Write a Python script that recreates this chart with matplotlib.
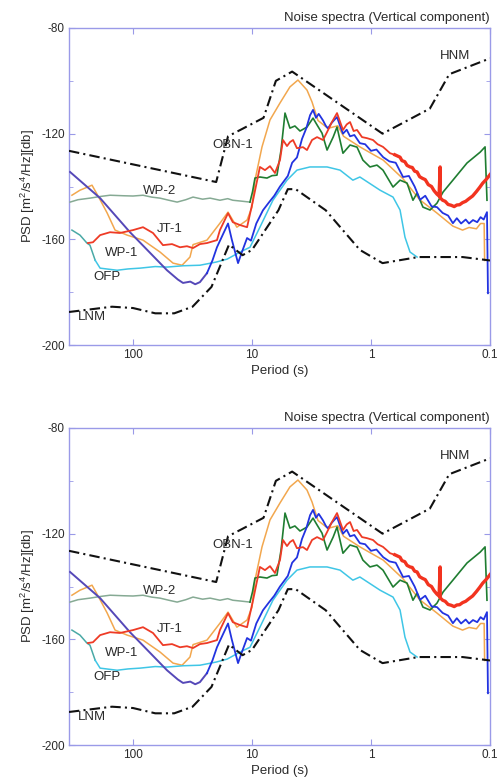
import numpy as np
import matplotlib
matplotlib.use("Agg")
import matplotlib.pyplot as plt
from matplotlib.ticker import FixedLocator, NullLocator, FixedFormatter

plt.rcParams["font.family"] = ["Liberation Sans", "DejaVu Sans"]
plt.rcParams["mathtext.fontset"] = "custom"
plt.rcParams["mathtext.rm"] = "Liberation Sans"
plt.rcParams["mathtext.it"] = "Liberation Sans:italic"
plt.rcParams["axes.unicode_minus"] = False

# --- Peterson noise models: (period [s], PSD [dB]) ---
hnm = [(345, -126.5), (20, -138.3), (15.9, -121.0), (8.0, -114.0), (6.3, -100.0),
       (4.6, -96.5), (0.8, -120.0), (0.32, -110.5), (0.22, -97.5), (0.1, -91.5)]
lnm = [(345, -187.5), (150, -185.5), (100, -186.0), (65, -188.0), (45, -188.0),
       (31.6, -185.5), (21.9, -178.0), (15.6, -162.0), (12, -166.0), (10, -164.0),
       (6, -149.0), (5, -141.0), (4.3, -141.0), (2.4, -149.0), (1.24, -164.0),
       (0.8, -169.0), (0.4, -166.7), (0.17, -166.7), (0.1, -168.0)]

# --- station spectra: (period [s], PSD [dB]) ---
obn1 = [(326, -143.3), (279, -141.4), (221, -139.5), (189, -145.0), (165, -150.0),
        (141.5, -156.5), (112, -158.4), (82.4, -160.3), (59.3, -164.8), (46.1, -169.0),
        (38.7, -169.8), (33.2, -166.7), (31.3, -162.0), (23.9, -160.3), (18.6, -153.9),
        (15.9, -149.7), (13.4, -155.4), (11.0, -152.7), (10.0, -147.8), (9.44, -137.6),
        (8.24, -125.0), (7.06, -114.8), (5.82, -108.4), (4.8, -102.3), (4.11, -99.7),
        (3.45, -103.5), (3.13, -108.0), (2.79, -115.0), (2.3, -118.0), (1.9, -117.0),
        (1.7, -121.0), (1.24, -125.0), (0.79, -130.0), (0.54, -137.0), (0.39, -145.0),
        (0.28, -150.0), (0.205, -155.0), (0.17, -156.5), (0.15, -155.5), (0.13, -156.0),
        (0.12, -154.0), (0.112, -154.0), (0.111, -168.0)]

wp2 = [(338, -145.9), (290, -145.0), (230, -144.4), (190, -143.8), (156, -143.3),
       (120, -143.5), (100, -143.6), (82.4, -143.3), (70, -144.0), (59.3, -144.4),
       (50, -145.2), (42.6, -145.9), (36, -145.0), (31.3, -144.0), (26, -144.8),
       (22.5, -144.4), (18.6, -145.2), (16, -144.6), (14.5, -145.2), (12.5, -145.5),
       (10.4, -145.9), (9.9, -142.0), (9.44, -136.8), (8.58, -136.4), (7.48, -136.8),
       (6.8, -135.9), (6.17, -135.7), (5.7, -126.2), (5.28, -112.2), (4.8, -117.9),
       (4.36, -117.1), (3.95, -119.0), (3.45, -117.5), (3.07, -114.1), (2.84, -116.7),
       (2.58, -119.8), (2.34, -126.2), (2.08, -121.3), (1.93, -117.5), (1.72, -127.4),
       (1.5, -124.3), (1.31, -125.1), (1.17, -130.0), (1.02, -132.6), (0.891, -131.9),
       (0.793, -133.8), (0.653, -140.2), (0.57, -137.6), (0.498, -138.7), (0.444, -145.2),
       (0.41, -142.5), (0.366, -147.8), (0.319, -148.9), (0.279, -146.3), (0.248, -142.1),
       (0.205, -137.6), (0.156, -131.1), (0.121, -127.0), (0.11, -125.0), (0.106, -145.2)]

jt1 = [(239, -161.4), (217, -161.1), (189, -158.4), (156, -157.3), (129, -157.6),
       (100, -156.5), (82.4, -155.4), (67.9, -157.6), (56, -162.2), (47, -161.8),
       (40.3, -163.0), (35.2, -162.6), (31.3, -163.3), (27.4, -161.8), (23.9, -161.4),
       (19.7, -160.3), (18.6, -156.5), (15.9, -150.1), (14.5, -153.5), (12.6, -154.6),
       (11.0, -155.4), (9.8, -145.2), (8.58, -132.6), (7.78, -133.8), (7.06, -132.3),
       (6.41, -134.9), (5.82, -130.0), (5.49, -122.4), (5.08, -124.7), (4.8, -123.2),
       (4.52, -122.4), (4.19, -125.5), (3.73, -125.1), (3.45, -126.2), (3.13, -122.4),
       (2.84, -121.3), (2.53, -122.4), (2.34, -119.4), (2.13, -115.6), (1.93, -112.2),
       (1.72, -118.6), (1.6, -116.5), (1.5, -115.6), (1.4, -119.0), (1.31, -118.6),
       (1.19, -121.3), (1.08, -121.7), (0.962, -122.4), (0.88, -124.0), (0.793, -125.0),
       (0.74, -126.2), (0.692, -127.4), (0.63, -128.0), (0.57, -128.9), (0.55, -130.2),
       (0.52, -130.6), (0.498, -132.0), (0.47, -132.6), (0.45, -132.8), (0.43, -134.2),
       (0.41, -134.5), (0.39, -136.3), (0.37, -136.9), (0.35, -137.4), (0.33, -139.3),
       (0.31, -140.0), (0.295, -141.6), (0.279, -142.9), (0.268, -143.6), (0.2625, -132.6),
       (0.262, -144.3), (0.25, -145.2), (0.238, -145.6), (0.225, -146.8), (0.212, -147.1),
       (0.2, -147.6), (0.19, -147.0), (0.18, -146.9), (0.17, -146.1), (0.16, -145.6),
       (0.15, -144.6), (0.14, -143.6), (0.13, -141.9), (0.122, -140.3), (0.115, -138.7),
       (0.108, -137.4), (0.104, -136.5), (0.1, -135.5)]

wp1 = [(338, -134.5), (189, -144.4), (106, -157.3), (51.8, -171.7), (42, -175.2),
       (38, -176.5), (33, -176.0), (30, -177.0), (27.4, -176.2), (23.9, -172.8),
       (21.5, -168.0), (19.7, -163.0), (17.5, -158.0), (15.9, -154.0), (14.8, -160.0),
       (13.1, -169.0), (12.2, -165.0), (11.0, -159.5), (10.2, -160.5), (9.2, -154.0),
       (8.09, -149.0), (7.2, -146.0), (6.5, -143.5), (5.82, -140.0), (5.0, -136.0),
       (4.6, -131.0), (4.19, -129.0), (3.8, -122.0), (3.5, -118.0), (3.25, -113.0),
       (3.07, -111.0), (2.9, -114.0), (2.75, -112.5), (2.53, -115.0), (2.4, -117.0),
       (2.3, -118.0), (2.15, -116.0), (1.93, -113.7), (1.82, -117.0), (1.72, -120.0),
       (1.6, -118.5), (1.5, -121.0), (1.38, -120.5), (1.24, -123.6), (1.12, -124.0),
       (1.0, -126.5), (0.9, -126.0), (0.79, -128.9), (0.7, -130.5), (0.62, -131.0),
       (0.538, -136.4), (0.48, -136.0), (0.43, -140.0), (0.387, -145.0), (0.35, -143.5),
       (0.31, -147.5), (0.279, -147.8), (0.25, -150.0), (0.225, -151.0), (0.205, -153.9),
       (0.19, -152.0), (0.175, -154.0), (0.16, -152.5), (0.15, -154.0), (0.139, -152.7),
       (0.128, -153.5), (0.12, -151.6), (0.113, -152.5), (0.106, -149.7), (0.104, -180.4)]

ofp = [(326, -156.5), (279, -158.4), (244, -161.4), (230, -162.2), (208, -167.9),
       (189, -170.9), (136, -171.7), (110, -171.2), (87.3, -170.9), (65, -170.3),
       (51.8, -170.5), (38, -170.0), (27.4, -169.8), (20, -168.6), (16.2, -167.5),
       (12.6, -164.8), (10.4, -163.0), (8.58, -155.4), (6.67, -145.2), (5.08, -137.6),
       (4.19, -133.8), (3.26, -132.6), (2.34, -132.6), (1.82, -133.8), (1.42, -137.6),
       (1.24, -136.4), (0.839, -141.4), (0.653, -144.0), (0.57, -148.9), (0.518, -159.2),
       (0.47, -164.8), (0.41, -166.7)]

# label text and anchor (period, dB)
labels = [("HNM", 0.197, -90.6), ("OBN-1", 14.5, -124.3), ("WP-2", 59.3, -141.7),
          ("JT-1", 48.9, -156.1), ("WP-1", 124, -165.2), ("OFP", 165, -174.3),
          ("LNM", 221, -189.5)]

TITLE = "Noise spectra (Vertical component)"
XLABEL = "Period (s)"
YLABEL = r"PSD [m$^2$/s$^4$/Hz][db]"
XTICKS = [100, 10, 1, 0.1]
XTICKLABELS = ["100", "10", "1", "0.1"]
YTICKS = [-200, -160, -120, -80]

SPINE = "#9a9ae8"
TEXT = "#2a2a2a"

# (series, colour long periods, colour short periods, split period,
#  width long periods, width short periods, z)
styles = [
    (obn1, "#f2a74e", "#f2a74e", None, 1.1, 1.1, 2),
    (ofp, "#4aa9a6", "#3fc6e6", 200, 1.1, 1.1, 3),
    (wp2, "#86aa94", "#1f7d31", 10.2, 1.1, 1.2, 4),
    (wp1, "#5548b8", "#2233e0", 22, 1.4, 1.3, 5),
    (jt1, "#ee3b26", "#f2331f", 0.6, 1.3, 2.4, 6),
]


def draw_series(ax, data, c_long, c_short, split, lw_long, lw_short, z):
    arr = np.asarray(data, dtype=float)
    p, v = arr[:, 0], arr[:, 1]
    if split is None:
        ax.plot(p, v, color=c_long, lw=lw_long, zorder=z)
        return
    i = int(np.argmax(p < split))
    ax.plot(p[:i], v[:i], color=c_long, lw=lw_long, zorder=z)
    ax.plot(p[i - 1:], v[i - 1:], color=c_short, lw=lw_short, zorder=z)


def draw_panel(ax):
    for data, c1, c2, split, lw1, lw2, z in styles:
        draw_series(ax, data, c1, c2, split, lw1, lw2, z)
    for model in (hnm, lnm):
        arr = np.asarray(model, dtype=float)
        ax.plot(arr[:, 0], arr[:, 1], color="#111111", lw=1.5,
                ls=(0, (5, 2, 1, 2)), zorder=7)
    for txt, px, py in labels:
        ax.text(px, py, txt, ha="center", va="center", fontsize=9.5,
                color=TEXT, zorder=8)

    ax.set_xscale("log")
    ax.set_xlim(345, 0.1)
    ax.set_ylim(-200, -80)
    ax.xaxis.set_major_locator(FixedLocator(XTICKS))
    ax.xaxis.set_major_formatter(FixedFormatter(XTICKLABELS))
    ax.xaxis.set_minor_locator(NullLocator())
    ax.yaxis.set_major_locator(FixedLocator(YTICKS))
    ax.yaxis.set_minor_locator(FixedLocator([-180, -140, -100]))
    ax.tick_params(which="both", direction="in", top=True, right=True,
                   color=SPINE, labelcolor=TEXT, labelsize=8.5, pad=3)
    ax.tick_params(which="major", length=4)
    ax.tick_params(which="minor", length=3)
    for s in ax.spines.values():
        s.set_color(SPINE)
        s.set_linewidth(1.0)
    ax.set_title(TITLE, loc="right", fontsize=9.5, color=TEXT, pad=5)
    ax.set_xlabel(XLABEL, fontsize=9.5, color=TEXT, labelpad=3)
    ax.set_ylabel(YLABEL, fontsize=9.5, color=TEXT, labelpad=3)


fig = plt.figure(figsize=(5, 7.82), dpi=100)
ax_top = fig.add_axes([0.138, 0.5588, 0.842, 0.4054])
ax_bot = fig.add_axes([0.138, 0.0473, 0.842, 0.4054])
for ax in (ax_top, ax_bot):
    draw_panel(ax)

fig.savefig("out.png", dpi=100, facecolor="white")
